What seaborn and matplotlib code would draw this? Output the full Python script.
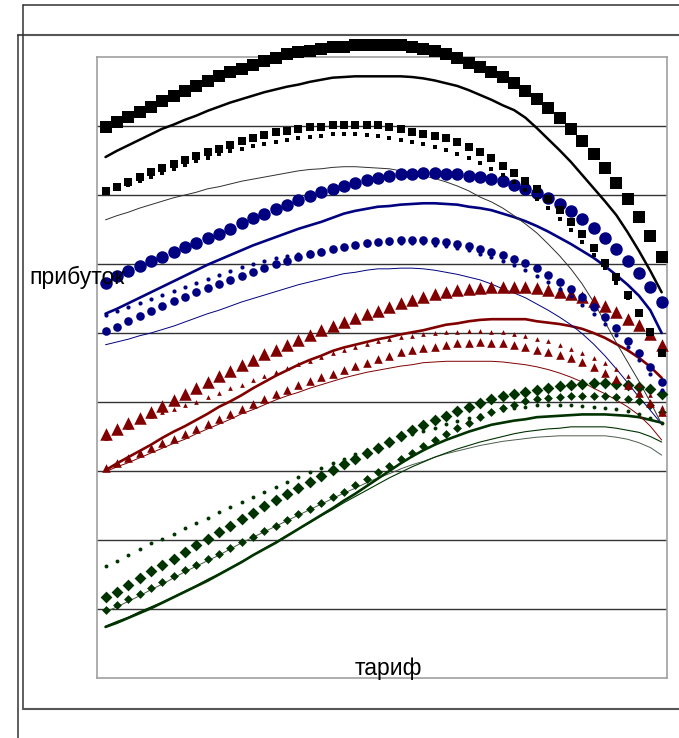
import matplotlib
matplotlib.use('Agg')
from matplotlib import pyplot as plt
from matplotlib import lines
import seaborn as sns

# Tariff steps along the x axis
tariff = list(range(50))

# Profit curves (one gridline step = 10 units)
black_big = [79.9, 80.6, 81.3, 82.0, 82.8, 83.6, 84.3, 85.1, 85.8, 86.5,
             87.2, 87.8, 88.3, 88.8, 89.4, 89.9, 90.4, 90.7, 90.9, 91.2,
             91.4, 91.5, 91.7, 91.7, 91.7, 91.7, 91.7, 91.5, 91.2, 90.9,
             90.4, 89.8, 89.2, 88.6, 87.8, 87.1, 86.2, 85.1, 83.9, 82.6,
             81.2, 79.6, 77.8, 75.9, 73.9, 71.7, 69.4, 66.8, 64.1, 61.0]
black_thick = [75.5, 76.4, 77.2, 78.0, 78.8, 79.6, 80.2, 80.9, 81.5, 82.2,
               82.8, 83.4, 83.9, 84.4, 84.9, 85.3, 85.7, 86.0, 86.4, 86.7,
               87.0, 87.1, 87.2, 87.2, 87.2, 87.2, 87.2, 87.1, 86.9, 86.6,
               86.2, 85.8, 85.2, 84.5, 83.8, 83.0, 82.3, 81.2, 79.7, 78.1,
               76.5, 74.8, 72.9, 71.0, 69.1, 67.1, 64.6, 61.9, 59.0, 55.9]
black_small = [70.6, 71.2, 71.9, 72.6, 73.3, 73.9, 74.5, 75.1, 75.7, 76.2,
               76.7, 77.2, 77.8, 78.3, 78.7, 79.1, 79.3, 79.6, 79.8, 79.9,
               80.1, 80.1, 80.2, 80.2, 80.1, 79.9, 79.6, 79.1, 78.8, 78.6,
               78.3, 77.7, 77.0, 76.2, 75.4, 74.2, 73.2, 72.0, 70.9, 69.4,
               67.8, 66.1, 64.3, 62.3, 60.1, 58.1, 55.5, 52.9, 50.1, 47.1]
black_dots = [70.3, 70.9, 71.4, 72.0, 72.6, 73.2, 73.8, 74.3, 74.9, 75.4,
              75.9, 76.4, 76.7, 77.1, 77.4, 77.7, 78.0, 78.2, 78.4, 78.6,
              78.8, 78.8, 78.8, 78.7, 78.5, 78.3, 78.0, 77.7, 77.4, 77.0,
              76.5, 76.0, 75.4, 74.6, 73.8, 72.9, 71.9, 70.7, 69.4, 68.1,
              66.5, 64.9, 63.2, 61.3, 59.4, 57.2, 55.1, 52.6, 50.0, 47.2]
black_thin = [66.4, 67.0, 67.5, 68.1, 68.6, 69.1, 69.6, 70.0, 70.4, 70.9,
              71.2, 71.6, 72.0, 72.3, 72.6, 72.9, 73.2, 73.5, 73.7, 73.8,
              74.0, 74.1, 74.1, 74.0, 73.9, 73.8, 73.5, 73.1, 72.8, 72.4,
              71.9, 71.3, 70.6, 69.7, 69.0, 68.1, 67.0, 65.8, 64.5, 62.9,
              61.2, 59.3, 57.1, 54.5, 51.6, 48.6, 45.8, 43.0, 40.0, 36.8]

blue_big = [57.2, 58.3, 59.0, 59.7, 60.4, 61.0, 61.7, 62.4, 63.0, 63.8,
            64.4, 65.1, 65.9, 66.7, 67.3, 68.0, 68.6, 69.3, 69.9, 70.4,
            70.9, 71.3, 71.7, 72.2, 72.5, 72.8, 73.0, 73.1, 73.2, 73.2,
            73.1, 73.0, 72.8, 72.6, 72.3, 72.0, 71.5, 70.9, 70.3, 69.6,
            68.7, 67.7, 66.5, 65.2, 63.8, 62.2, 60.4, 58.7, 56.7, 54.5]
blue_thick = [52.8, 53.5, 54.3, 55.1, 55.9, 56.7, 57.5, 58.3, 59.1, 59.9,
              60.6, 61.3, 62.0, 62.7, 63.3, 63.9, 64.5, 65.1, 65.6, 66.1,
              66.7, 67.3, 67.7, 68.0, 68.3, 68.4, 68.6, 68.7, 68.8, 68.8,
              68.7, 68.6, 68.3, 68.1, 67.8, 67.3, 66.8, 66.2, 65.5, 64.7,
              63.8, 62.9, 61.9, 60.9, 59.7, 58.4, 57.0, 55.4, 53.3, 50.0]
blue_small = [50.3, 50.9, 51.7, 52.5, 53.2, 53.9, 54.6, 55.2, 55.9, 56.5,
              57.1, 57.7, 58.3, 58.8, 59.4, 60.0, 60.5, 61.0, 61.4, 61.8,
              62.2, 62.5, 62.8, 63.0, 63.2, 63.3, 63.5, 63.5, 63.5, 63.3,
              63.2, 62.9, 62.6, 62.2, 61.7, 61.3, 60.7, 60.1, 59.4, 58.4,
              57.4, 56.4, 55.2, 53.8, 52.3, 50.7, 48.8, 47.1, 45.1, 42.9]
blue_dots = [52.6, 53.2, 53.8, 54.3, 54.9, 55.5, 56.1, 56.7, 57.2, 57.8,
             58.4, 59.0, 59.6, 60.0, 60.4, 60.8, 61.2, 61.4, 61.7, 62.0,
             62.2, 62.5, 62.7, 62.8, 63.0, 63.0, 63.0, 63.0, 63.0, 62.8,
             62.6, 62.3, 62.0, 61.5, 61.0, 60.4, 59.8, 59.1, 58.3, 57.4,
             56.4, 55.3, 54.1, 52.8, 51.3, 49.7, 48.0, 46.1, 44.1, 41.7]
blue_thin = [48.3, 48.7, 49.1, 49.6, 50.0, 50.5, 51.0, 51.6, 52.2, 52.8,
             53.3, 53.9, 54.5, 55.0, 55.5, 56.0, 56.5, 57.0, 57.4, 57.8,
             58.2, 58.6, 58.8, 59.1, 59.3, 59.3, 59.4, 59.4, 59.3, 59.1,
             58.8, 58.5, 58.1, 57.7, 57.1, 56.4, 55.8, 55.1, 54.2, 53.3,
             52.3, 51.2, 49.9, 48.4, 46.7, 44.8, 42.8, 40.7, 38.8, 36.8]

red_big = [35.3, 36.1, 36.9, 37.7, 38.5, 39.4, 40.3, 41.1, 42.0, 42.9,
           43.7, 44.5, 45.3, 46.1, 46.9, 47.6, 48.3, 49.0, 49.7, 50.4,
           51.0, 51.6, 52.2, 52.7, 53.2, 53.8, 54.3, 54.8, 55.2, 55.6,
           55.9, 56.2, 56.4, 56.5, 56.6, 56.6, 56.6, 56.6, 56.5, 56.3,
           56.0, 55.6, 55.2, 54.6, 53.9, 53.0, 52.1, 51.1, 49.8, 48.2]
red_thick = [30.1, 31.1, 32.0, 32.9, 33.8, 34.8, 35.7, 36.5, 37.4, 38.3,
             39.3, 40.1, 41.0, 42.0, 42.9, 43.8, 44.6, 45.4, 46.1, 46.7,
             47.4, 47.9, 48.3, 48.7, 49.1, 49.4, 49.8, 50.1, 50.4, 50.8,
             51.2, 51.4, 51.7, 51.9, 52.0, 52.0, 52.0, 52.0, 51.7, 51.5,
             51.3, 51.0, 50.6, 50.0, 49.3, 48.4, 47.5, 46.4, 45.1, 43.5]
red_small = [30.4, 31.2, 31.9, 32.6, 33.3, 34.0, 34.6, 35.4, 36.1, 36.8,
             37.5, 38.3, 39.0, 39.7, 40.4, 41.2, 41.8, 42.4, 43.0, 43.6,
             44.1, 44.7, 45.2, 45.7, 46.2, 46.7, 47.2, 47.5, 47.8, 48.0,
             48.3, 48.5, 48.6, 48.7, 48.6, 48.5, 48.3, 48.0, 47.5, 47.2,
             46.8, 46.4, 45.8, 45.1, 44.2, 43.4, 42.5, 41.3, 39.9, 38.6]
red_dots = [34.8, 35.6, 36.4, 37.2, 37.9, 38.5, 39.0, 39.5, 40.0, 40.7,
            41.3, 42.0, 42.5, 43.2, 43.8, 44.4, 44.9, 45.5, 46.0, 46.5,
            47.1, 47.5, 48.0, 48.4, 48.8, 49.1, 49.4, 49.6, 49.9, 50.0,
            50.1, 50.2, 50.3, 50.3, 50.2, 50.1, 49.9, 49.6, 49.2, 48.8,
            48.3, 47.7, 47.1, 46.4, 45.7, 44.8, 43.8, 42.5, 41.0, 39.3]
red_thin = [29.9, 30.6, 31.2, 31.9, 32.6, 33.3, 34.0, 34.6, 35.4, 36.1,
            36.8, 37.5, 38.3, 38.9, 39.6, 40.3, 40.9, 41.4, 42.0, 42.5,
            43.0, 43.5, 43.9, 44.3, 44.6, 44.9, 45.2, 45.4, 45.7, 45.8,
            45.9, 45.9, 45.9, 45.9, 45.9, 45.8, 45.6, 45.4, 45.1, 44.7,
            44.2, 43.6, 42.9, 42.0, 41.2, 40.3, 39.3, 38.1, 36.5, 34.5]

green_big = [11.7, 12.5, 13.5, 14.5, 15.5, 16.4, 17.2, 18.3, 19.3, 20.2,
             21.2, 22.1, 23.0, 23.9, 24.9, 25.8, 26.7, 27.5, 28.4, 29.3,
             30.1, 31.0, 31.8, 32.6, 33.4, 34.2, 35.1, 35.9, 36.7, 37.4,
             38.0, 38.7, 39.3, 39.9, 40.4, 40.8, 41.2, 41.5, 41.8, 42.1,
             42.3, 42.5, 42.6, 42.7, 42.7, 42.6, 42.5, 42.2, 41.9, 41.2]
green_thick = [7.4, 8.0, 8.7, 9.4, 10.1, 10.9, 11.7, 12.5, 13.3, 14.1,
               15.0, 15.9, 16.8, 17.8, 18.7, 19.6, 20.6, 21.6, 22.6, 23.6,
               24.6, 25.7, 26.7, 27.8, 28.9, 30.0, 31.1, 32.1, 33.0, 33.8,
               34.5, 35.1, 35.7, 36.2, 36.7, 37.0, 37.3, 37.5, 37.8, 37.9,
               38.0, 38.1, 38.2, 38.2, 38.2, 38.1, 38.0, 37.8, 37.4, 37.0]
green_small = [9.9, 10.6, 11.4, 12.2, 13.0, 13.9, 14.8, 15.6, 16.4, 17.2,
               18.0, 18.8, 19.7, 20.5, 21.3, 22.1, 22.9, 23.7, 24.5, 25.3,
               26.2, 27.0, 27.9, 28.8, 29.8, 30.7, 31.7, 32.6, 33.6, 34.5,
               35.4, 36.2, 37.0, 37.8, 38.6, 39.1, 39.6, 40.1, 40.4, 40.6,
               40.7, 40.9, 40.9, 40.9, 40.9, 40.7, 40.5, 40.1, 39.5, 38.6]
green_dots = [16.2, 17.0, 17.8, 18.7, 19.5, 20.2, 20.9, 21.7, 22.5, 23.2,
              24.0, 24.8, 25.5, 26.2, 27.0, 27.7, 28.4, 29.1, 29.9, 30.5,
              31.2, 31.8, 32.5, 33.0, 33.6, 34.2, 34.8, 35.3, 35.8, 36.3,
              36.8, 37.2, 37.7, 38.1, 38.5, 38.8, 39.1, 39.3, 39.5, 39.6,
              39.6, 39.5, 39.4, 39.3, 39.2, 39.0, 38.7, 38.3, 37.7, 37.0]
green_thin = [7.5, 8.2, 8.8, 9.6, 10.3, 11.0, 11.8, 12.6, 13.4, 14.3,
              15.1, 16.0, 16.9, 17.8, 18.8, 19.7, 20.7, 21.6, 22.5, 23.5,
              24.4, 25.4, 26.3, 27.2, 28.1, 29.0, 29.8, 30.6, 31.3, 32.0,
              32.6, 33.2, 33.7, 34.2, 34.6, 35.0, 35.4, 35.7, 35.9, 36.1,
              36.2, 36.4, 36.4, 36.4, 36.4, 36.2, 35.9, 35.6, 35.0, 34.2]
green_hair = [9.6, 10.3, 11.1, 11.9, 12.8, 13.6, 14.5, 15.4, 16.2, 17.0,
              17.8, 18.7, 19.6, 20.4, 21.2, 22.0, 22.8, 23.6, 24.4, 25.2,
              26.0, 26.8, 27.5, 28.3, 29.0, 29.6, 30.3, 30.9, 31.4, 32.0,
              32.5, 32.9, 33.3, 33.7, 34.0, 34.3, 34.5, 34.7, 34.9, 35.0,
              35.1, 35.1, 35.1, 35.1, 35.1, 34.9, 34.6, 34.1, 33.4, 32.3]

BLACK, BLUE, RED, GREEN = '#000000', '#000080', '#800000', '#003300'

sns.set_style('white')
plt.rcParams['font.family'] = ['Liberation Sans', 'DejaVu Sans']

fig = plt.figure(figsize=(6.79, 7.38), dpi=100)
ax = fig.add_axes([97 / 679, 60 / 738, 570 / 679, 621 / 738])


def draw_markers(values, color, marker, size):
    sns.scatterplot(x=tariff, y=values, ax=ax, color=color, marker=marker,
                    s=size ** 2, linewidth=0, clip_on=False, zorder=3)


def draw_line(values, color, width):
    sns.lineplot(x=tariff, y=values, ax=ax, color=color, linewidth=width,
                 clip_on=False, zorder=2)


# green group
draw_line(green_hair, '#4d5e4d', 0.7)
draw_line(green_thin, GREEN, 0.8)
draw_line(green_thick, GREEN, 1.9)
draw_markers(green_dots, GREEN, 'o', 2.8)
draw_markers(green_small, GREEN, 'D', 4.5)
draw_markers(green_big, GREEN, 'D', 6.0)
# red group
draw_line(red_thin, RED, 0.7)
draw_line(red_thick, RED, 1.9)
draw_markers(red_dots, RED, '^', 3.4)
draw_markers(red_small, RED, '^', 6.2)
draw_markers(red_big, RED, '^', 9.0)
# blue group
draw_line(blue_thin, BLUE, 0.7)
draw_line(blue_thick, BLUE, 1.9)
draw_markers(blue_dots, BLUE, 'o', 3.0)
draw_markers(blue_small, BLUE, 'o', 6.2)
draw_markers(blue_big, BLUE, 'o', 9.0)
# black group
draw_line(black_thin, '#303030', 0.7)
draw_line(black_thick, BLACK, 1.8)
draw_markers(black_dots, BLACK, 's', 2.8)
draw_markers(black_small, BLACK, 's', 5.2)
draw_markers(black_big, BLACK, 's', 8.0)

ax.set_xlim(-0.75, 49.47)
ax.set_ylim(0, 90)
ax.set_xticks([])
ax.set_yticks(range(10, 90, 10))
ax.tick_params(left=False, labelleft=False)
ax.grid(axis='y', color='#333333', linewidth=1.0)
ax.set_xlabel('')
ax.set_ylabel('')
for side in ax.spines.values():
    side.set_color('#a0a0a0')
    side.set_linewidth(1.2)

fig.text(29 / 679, 1 - 277 / 738, 'прибуток', fontsize=16.5, ha='left',
         va='center', color='black', zorder=10)
fig.text(388 / 679, 1 - 668 / 738, 'тариф', fontsize=16.5, ha='center',
         va='center', color='black', zorder=10)

# window frame around the chart
frame = [((23, 4.5), (679, 4.5), '#333333', 1.1),
         ((18, 34.5), (679, 34.5), '#555555', 1.5),
         ((18, 34.5), (18, 738), '#333333', 1.1),
         ((23, 4.5), (23, 709), '#333333', 1.1),
         ((23, 709), (679, 709), '#555555', 1.5)]
for (x0, y0), (x1, y1), c, w in frame:
    fig.add_artist(lines.Line2D([x0 / 679, x1 / 679],
                                [1 - y0 / 738, 1 - y1 / 738],
                                transform=fig.transFigure, color=c,
                                linewidth=w))

fig.savefig('out.png', dpi=100)
